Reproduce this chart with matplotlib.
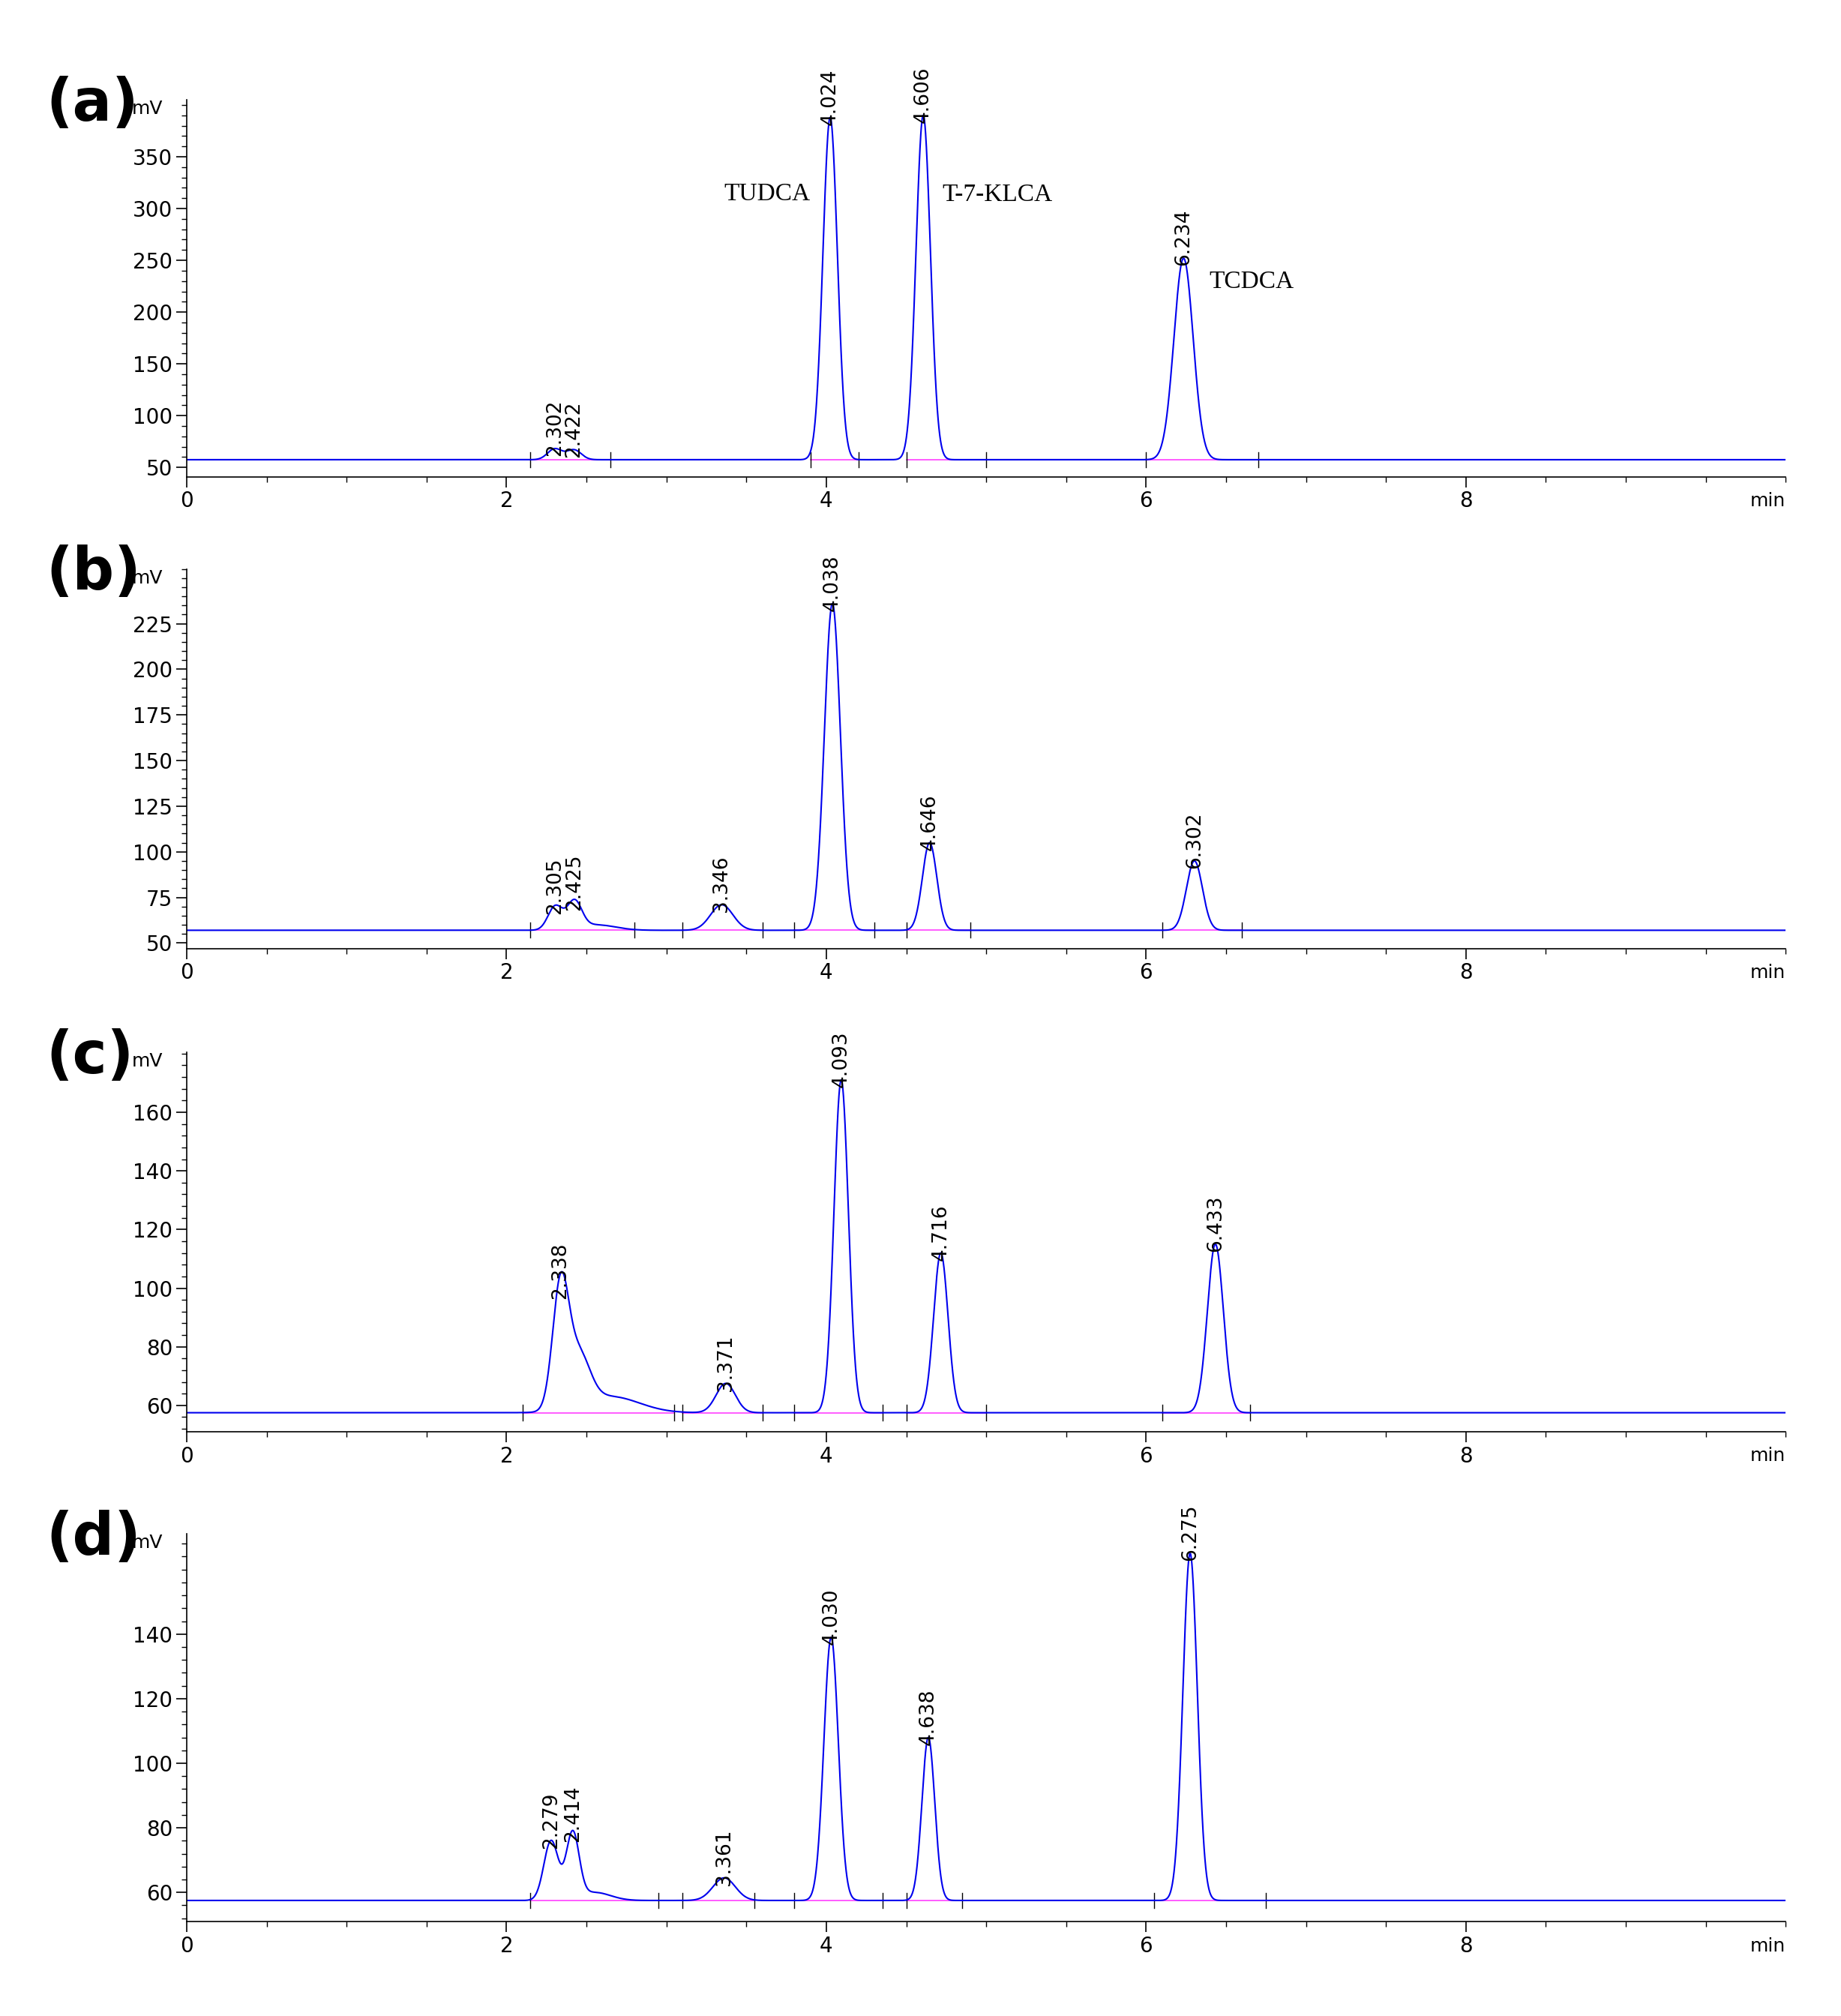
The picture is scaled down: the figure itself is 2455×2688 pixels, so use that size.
import numpy as np
import matplotlib
matplotlib.use('Agg')
import matplotlib.pyplot as plt
from matplotlib.ticker import MultipleLocator, AutoMinorLocator

# peak tables: retention time (min), apex height (mV), sigma (min)
a_rt = [2.302, 2.422, 4.024, 4.606, 6.234]
a_h = [68, 67, 388, 390, 252]
a_sig = [0.045, 0.045, 0.045, 0.045, 0.06]
a_base = 57.5

b_rt = [2.305, 2.425, 2.56, 3.346, 4.038, 4.646, 6.302]
b_h = [70, 72, 60, 71, 236, 105, 95]
b_sig = [0.045, 0.045, 0.12, 0.07, 0.05, 0.045, 0.05]
b_lab = [True, True, False, True, True, True, True]
b_base = 57.0

c_rt = [2.338, 2.45, 2.65, 3.371, 4.093, 4.716, 6.433]
c_h = [99, 75, 63, 67.5, 171, 112, 115]
c_sig = [0.05, 0.07, 0.18, 0.06, 0.045, 0.045, 0.05]
c_lab = [True, False, False, True, True, True, True]
c_base = 57.5

d_rt = [2.279, 2.414, 2.55, 3.361, 4.030, 4.638, 6.275]
d_h = [76, 78, 60, 64.5, 139, 108, 165]
d_sig = [0.045, 0.04, 0.1, 0.07, 0.045, 0.04, 0.045]
d_lab = [True, True, False, True, True, True, True]
d_base = 57.5

panels = [
    ('(a)', a_rt, a_h, a_sig, [True] * 5, a_base, (41, 405), 50, 350),
    ('(b)', b_rt, b_h, b_sig, b_lab, b_base, (47, 255), 25, 225),
    ('(c)', c_rt, c_h, c_sig, c_lab, c_base, (51, 180.5), 20, 160),
    ('(d)', d_rt, d_h, d_sig, d_lab, d_base, (51, 171), 20, 140),
]
# integration baselines (start, end) per panel
segs = [
    [(2.15, 2.65), (3.9, 4.2), (4.5, 5.0), (6.0, 6.7)],
    [(2.15, 2.8), (3.1, 3.6), (3.8, 4.3), (4.5, 4.9), (6.1, 6.6)],
    [(2.1, 3.05), (3.1, 3.6), (3.8, 4.35), (4.5, 5.0), (6.1, 6.65)],
    [(2.15, 2.95), (3.1, 3.55), (3.8, 4.35), (4.5, 4.85), (6.05, 6.75)],
]
names_a = [('TUDCA', 3.63, 314), ('T-7-KLCA', 5.07, 313), ('TCDCA', 6.66, 229)]

tops = [0.9505, 0.7178, 0.4781, 0.2391]
bots = [0.7635, 0.5295, 0.2898, 0.0469]
left, right = 0.1014, 0.970

fig = plt.figure(figsize=(24.55, 26.88), dpi=100)
t = np.linspace(0, 10, 6000)

for i, (lab, rt, h, sig, show, base, ylim, ymaj, ylab_max) in enumerate(panels):
    ax = fig.add_axes([left, bots[i], right - left, tops[i] - bots[i]])
    y = np.full_like(t, base)
    for r, hh, s in zip(rt, h, sig):
        y += (hh - base) * np.exp(-0.5 * ((t - r) / s) ** 2)
    for s0, s1 in segs[i]:
        ax.plot([s0, s1], [base, base], color='#ff40ff', lw=1.2, zorder=1)
        for xx in (s0, s1):
            ax.plot([xx, xx], [base - (ylim[1] - ylim[0]) * 0.02, base + (ylim[1] - ylim[0]) * 0.02],
                    color='black', lw=1.0, zorder=1)
    ax.plot(t, y, color='#0000ee', lw=1.5, zorder=2)
    for r, hh, sh in zip(rt, h, show):
        if sh:
            ax.text(r, hh - (ylim[1] - ylim[0]) * 0.02, '%.3f' % r, rotation=90,
                    ha='center', va='bottom', fontsize=19)
    if i == 0:
        for nm, xx, yy in names_a:
            ax.text(xx, yy, nm, family='Liberation Serif', fontsize=24, ha='center', va='center')

    ax.set_xlim(0, 10)
    ax.set_ylim(*ylim)
    for sp in ('top', 'right'):
        ax.spines[sp].set_visible(False)
    ax.spines['left'].set_linewidth(1.2)
    ax.spines['bottom'].set_linewidth(1.2)
    ax.set_xticks([0, 2, 4, 6, 8])
    ax.xaxis.set_minor_locator(MultipleLocator(0.5))
    ax.set_yticks(np.arange(ymaj * np.ceil(ylim[0] / ymaj), ylab_max + 1, ymaj))
    ax.yaxis.set_minor_locator(AutoMinorLocator(5))
    ax.set_ylim(*ylim)
    ax.tick_params(which='major', length=10, width=1.2, labelsize=20)
    ax.tick_params(which='minor', length=5, width=1.0)
    ax.text(-0.015, 1.0, 'mV', transform=ax.transAxes, ha='right', va='top', fontsize=18)
    ax.text(1.0, -0.04, 'min', transform=ax.transAxes, ha='right', va='top', fontsize=18)
    fig.text(0.025, tops[i] + 0.012, lab, fontsize=56, fontweight='bold', va='top', ha='left')

fig.savefig('out.png', dpi=100, facecolor='white')
